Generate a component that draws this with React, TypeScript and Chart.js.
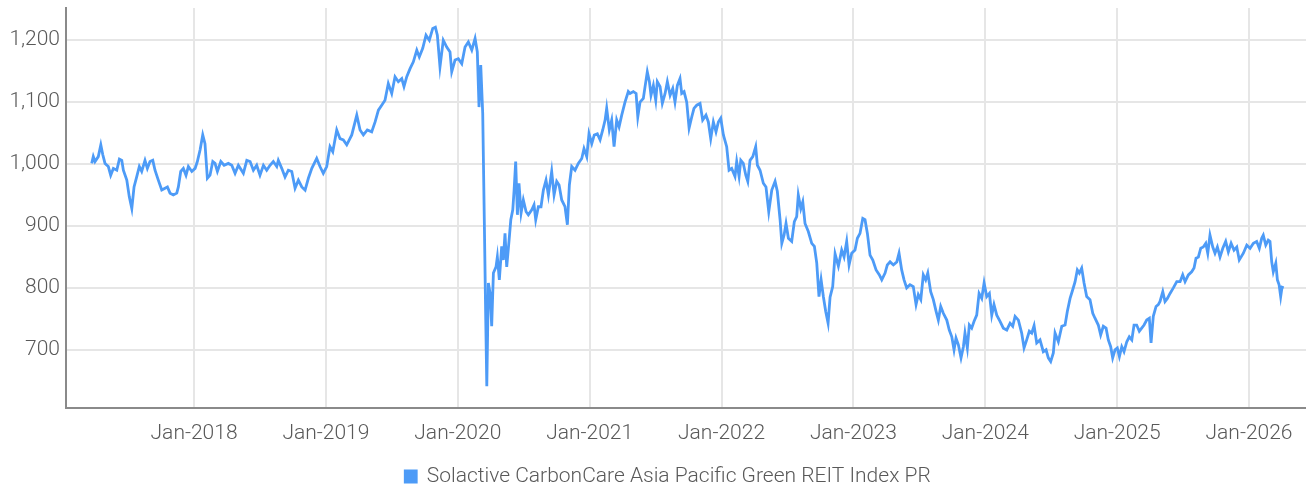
import { useEffect, useRef } from "react";
import { Chart, registerables } from "chart.js";

Chart.register(...registerables);

const SERIES_LABEL = "Solactive CarbonCare Asia Pacific Green REIT Index PR";

// Dates as decimal years
const dates: number[] = [
  2017.224, 2017.236, 2017.249, 2017.274, 2017.293, 2017.308, 2017.325, 2017.35, 2017.368, 2017.388,
  2017.414, 2017.434, 2017.452, 2017.464, 2017.49, 2017.509, 2017.528, 2017.545, 2017.566, 2017.585,
  2017.603, 2017.628, 2017.646, 2017.666, 2017.687, 2017.704, 2017.729, 2017.755, 2017.78, 2017.798,
  2017.818, 2017.843, 2017.869, 2017.881, 2017.899, 2017.919, 2017.939, 2017.957, 2017.983, 2018.008,
  2018.025, 2018.046, 2018.066, 2018.083, 2018.101, 2018.121, 2018.142, 2018.159, 2018.177, 2018.203,
  2018.228, 2018.26, 2018.286, 2018.311, 2018.336, 2018.374, 2018.4, 2018.425, 2018.45, 2018.475,
  2018.5, 2018.526, 2018.551, 2018.576, 2018.601, 2018.627, 2018.639, 2018.665, 2018.69, 2018.715,
  2018.741, 2018.766, 2018.791, 2018.817, 2018.842, 2018.867, 2018.893, 2018.93, 2018.955, 2018.98,
  2019.006, 2019.031, 2019.052, 2019.082, 2019.107, 2019.132, 2019.158, 2019.196, 2019.234, 2019.259,
  2019.284, 2019.314, 2019.347, 2019.373, 2019.398, 2019.423, 2019.448, 2019.473, 2019.499, 2019.524,
  2019.549, 2019.575, 2019.592, 2019.613, 2019.638, 2019.663, 2019.689, 2019.708, 2019.734, 2019.759,
  2019.784, 2019.81, 2019.83, 2019.845, 2019.865, 2019.89, 2019.916, 2019.941, 2019.954, 2019.979,
  2020.004, 2020.03, 2020.055, 2020.08, 2020.106, 2020.131, 2020.148, 2020.161, 2020.174, 2020.189,
  2020.201, 2020.212, 2020.22, 2020.232, 2020.245, 2020.257, 2020.27, 2020.29, 2020.3, 2020.315,
  2020.333, 2020.345, 2020.358, 2020.371, 2020.389, 2020.402, 2020.417, 2020.427, 2020.439, 2020.452,
  2020.464, 2020.48, 2020.497, 2020.518, 2020.535, 2020.561, 2020.578, 2020.591, 2020.611, 2020.631,
  2020.649, 2020.669, 2020.687, 2020.712, 2020.73, 2020.75, 2020.768, 2020.788, 2020.813, 2020.831,
  2020.846, 2020.864, 2020.889, 2020.914, 2020.94, 2020.957, 2020.978, 2020.995, 2021.016, 2021.035,
  2021.058, 2021.079, 2021.099, 2021.117, 2021.129, 2021.149, 2021.167, 2021.185, 2021.205, 2021.223,
  2021.243, 2021.268, 2021.293, 2021.306, 2021.331, 2021.352, 2021.365, 2021.382, 2021.407, 2021.42,
  2021.437, 2021.453, 2021.465, 2021.483, 2021.501, 2021.513, 2021.534, 2021.551, 2021.572, 2021.589,
  2021.61, 2021.63, 2021.647, 2021.665, 2021.685, 2021.698, 2021.716, 2021.736, 2021.754, 2021.774,
  2021.791, 2021.812, 2021.837, 2021.857, 2021.882, 2021.9, 2021.918, 2021.938, 2021.958, 2021.976,
  2021.994, 2022.014, 2022.039, 2022.057, 2022.077, 2022.102, 2022.115, 2022.133, 2022.146, 2022.165,
  2022.184, 2022.199, 2022.216, 2022.237, 2022.259, 2022.272, 2022.292, 2022.317, 2022.337, 2022.358,
  2022.381, 2022.406, 2022.423, 2022.444, 2022.457, 2022.474, 2022.489, 2022.507, 2022.532, 2022.552,
  2022.57, 2022.582, 2022.601, 2022.616, 2022.633, 2022.658, 2022.684, 2022.704, 2022.722, 2022.739,
  2022.755, 2022.772, 2022.79, 2022.808, 2022.823, 2022.843, 2022.861, 2022.886, 2022.911, 2022.929,
  2022.949, 2022.967, 2022.987, 2023.012, 2023.03, 2023.05, 2023.071, 2023.088, 2023.106, 2023.126,
  2023.147, 2023.172, 2023.197, 2023.215, 2023.24, 2023.257, 2023.278, 2023.303, 2023.329, 2023.346,
  2023.366, 2023.384, 2023.404, 2023.429, 2023.454, 2023.475, 2023.492, 2023.511, 2023.53, 2023.548,
  2023.564, 2023.586, 2023.606, 2023.627, 2023.644, 2023.662, 2023.682, 2023.708, 2023.727, 2023.746,
  2023.763, 2023.778, 2023.796, 2023.816, 2023.834, 2023.846, 2023.864, 2023.879, 2023.897, 2023.915,
  2023.935, 2023.953, 2023.973, 2023.991, 2024.011, 2024.031, 2024.049, 2024.066, 2024.087, 2024.112,
  2024.137, 2024.163, 2024.188, 2024.208, 2024.226, 2024.251, 2024.276, 2024.294, 2024.314, 2024.334,
  2024.352, 2024.37, 2024.39, 2024.415, 2024.44, 2024.461, 2024.478, 2024.496, 2024.516, 2024.529,
  2024.554, 2024.58, 2024.605, 2024.622, 2024.643, 2024.663, 2024.681, 2024.698, 2024.713, 2024.731,
  2024.749, 2024.769, 2024.794, 2024.815, 2024.832, 2024.857, 2024.875, 2024.895, 2024.916, 2024.933,
  2024.951, 2024.966, 2024.984, 2025.001, 2025.017, 2025.035, 2025.052, 2025.073, 2025.092, 2025.111,
  2025.128, 2025.148, 2025.168, 2025.186, 2025.204, 2025.224, 2025.244, 2025.257, 2025.274, 2025.295,
  2025.312, 2025.325, 2025.346, 2025.363, 2025.381, 2025.401, 2025.426, 2025.452, 2025.477, 2025.497,
  2025.515, 2025.54, 2025.565, 2025.583, 2025.598, 2025.616, 2025.634, 2025.653, 2025.672, 2025.687,
  2025.704, 2025.725, 2025.742, 2025.76, 2025.78, 2025.801, 2025.823, 2025.843, 2025.864, 2025.886,
  2025.907, 2025.926, 2025.957, 2025.983, 2026.008, 2026.033, 2026.058, 2026.078, 2026.096, 2026.108,
  2026.127, 2026.146, 2026.159, 2026.172, 2026.184, 2026.203, 2026.215, 2026.228, 2026.24, 2026.25,
  2026.263,
];

const indexValues: number[] = [
  1001, 1012, 1004, 1012, 1031, 1015, 1001, 996, 982, 993,
  990, 1008, 1006, 990, 974, 947, 928, 963, 980, 996,
  988, 1006, 993, 1004, 1006, 990, 974, 958, 961, 963,
  953, 950, 953, 963, 988, 993, 982, 996, 988, 993,
  1004, 1023, 1047, 1033, 977, 982, 1004, 1001, 988, 1004,
  998, 1001, 998, 985, 998, 985, 1006, 1004, 990, 998,
  982, 998, 990, 998, 1004, 996, 1006, 993, 979, 990,
  988, 961, 974, 963, 958, 977, 993, 1009, 996, 985,
  996, 1028, 1020, 1055, 1041, 1039, 1031, 1047, 1079, 1055,
  1047, 1055, 1052, 1068, 1087, 1095, 1103, 1130, 1114, 1141,
  1133, 1138, 1125, 1141, 1154, 1165, 1184, 1173, 1187, 1208,
  1200, 1219, 1221, 1208, 1157, 1200, 1189, 1181, 1149, 1168,
  1170, 1162, 1189, 1197, 1184, 1203, 1181, 1092, 1160, 1082,
  910, 748, 641, 808, 791, 738, 824, 834, 850, 813,
  867, 845, 888, 834, 877, 910, 926, 958, 1004, 918,
  969, 921, 942, 923, 918, 926, 934, 910, 931, 931,
  958, 974, 950, 988, 950, 972, 966, 942, 931, 902,
  966, 996, 990, 1001, 1009, 1025, 1012, 1049, 1033, 1047,
  1049, 1039, 1055, 1071, 1090, 1055, 1071, 1028, 1071, 1060,
  1079, 1100, 1117, 1114, 1117, 1114, 1076, 1100, 1106, 1125,
  1149, 1133, 1111, 1127, 1103, 1133, 1125, 1098, 1114, 1133,
  1111, 1122, 1100, 1127, 1138, 1114, 1117, 1100, 1058, 1076,
  1090, 1095, 1098, 1071, 1079, 1068, 1041, 1068, 1052, 1068,
  1074, 1047, 1028, 990, 993, 980, 1004, 980, 1006, 1001,
  982, 972, 1006, 1012, 1028, 998, 990, 969, 963, 923,
  958, 972, 956, 910, 872, 885, 904, 880, 875, 907,
  915, 950, 928, 939, 904, 891, 872, 867, 840, 786,
  813, 786, 762, 743, 785, 802, 855, 835, 861, 850,
  875, 837, 856, 861, 880, 888, 912, 910, 888, 853,
  845, 829, 821, 813, 824, 837, 842, 837, 842, 856,
  829, 813, 800, 805, 802, 773, 789, 781, 821, 813,
  824, 794, 781, 762, 748, 770, 759, 748, 732, 721,
  700, 719, 708, 687, 705, 727, 703, 740, 735, 746,
  756, 791, 783, 808, 786, 791, 756, 773, 756, 746,
  735, 732, 743, 738, 754, 748, 727, 703, 716, 730,
  727, 739, 711, 716, 697, 700, 687, 681, 695, 727,
  713, 738, 740, 762, 783, 797, 810, 829, 824, 832,
  808, 786, 781, 759, 751, 740, 724, 738, 735, 716,
  705, 687, 700, 703, 689, 705, 697, 713, 721, 716,
  740, 740, 730, 735, 740, 748, 751, 711, 754, 770,
  773, 778, 794, 778, 783, 791, 800, 810, 810, 821,
  810, 821, 826, 832, 848, 850, 864, 866, 872, 856,
  885, 866, 856, 866, 850, 864, 875, 858, 872, 861,
  866, 845, 856, 869, 864, 872, 875, 864, 880, 885,
  869, 877, 875, 842, 826, 840, 813, 805, 786, 801,
  800,
];

const yTickValues: number[] = [700, 800, 900, 1000, 1100, 1200];
const xTickYears: number[] = [2018, 2019, 2020, 2021, 2022, 2023, 2024, 2025, 2026];
const xTickLabels: string[] = [
  "Jan-2018", "Jan-2019", "Jan-2020", "Jan-2021", "Jan-2022",
  "Jan-2023", "Jan-2024", "Jan-2025", "Jan-2026",
];

const X_MIN = 2017.029;
const X_MAX = 2026.432;
const Y_MIN = 606;
const Y_MAX = 1252;

const LINE_COLOR = "rgb(77, 155, 247)";
const TEXT_COLOR = "#595959";
const GRID_COLOR = "#e6e6e6";
const AXIS_COLOR = "#8a8a8a";
const FONT = { family: "Roboto", size: 21, weight: "300" as const };
const LEGEND_SHIFT = 15;

const legendShiftPlugin = {
  id: "legendShift",
  afterLayout(chart: any) {
    const legend = chart.legend;
    if (legend) {
      legend.left += LEGEND_SHIFT;
      legend.right += LEGEND_SHIFT;
    }
  },
};

export default function App() {
  const canvasRef = useRef<HTMLCanvasElement | null>(null);

  useEffect(() => {
    document.body.style.margin = "0";
    const canvas = canvasRef.current;
    if (!canvas) return;
    const points = dates.map((d, i) => ({ x: d, y: indexValues[i] }));
    const chart = new Chart(canvas, {
      type: "line",
      data: {
        datasets: [
          {
            label: SERIES_LABEL,
            data: points,
            borderColor: LINE_COLOR,
            backgroundColor: LINE_COLOR,
            borderWidth: 2.8,
            pointRadius: 0,
            pointHoverRadius: 0,
            tension: 0,
            fill: false,
          },
        ],
      },
      options: {
        animation: false,
        responsive: false,
        maintainAspectRatio: false,
        layout: { padding: { top: 8, right: 0, bottom: -4, left: 0 } },
        scales: {
          x: {
            type: "linear",
            min: X_MIN,
            max: X_MAX,
            afterBuildTicks: (scale: any) => {
              scale.ticks = xTickYears.map((v) => ({ value: v }));
            },
            afterFit: (scale: any) => {
              scale.height = 48;
              scale.paddingLeft = 0;
              scale.paddingRight = 0;
            },
            ticks: {
              autoSkip: false,
              maxRotation: 0,
              minRotation: 0,
              padding: 13,
              color: TEXT_COLOR,
              font: FONT,
              callback: (value: any) => {
                const idx = xTickYears.indexOf(Number(value));
                return idx >= 0 ? xTickLabels[idx] : "";
              },
            },
            grid: { color: GRID_COLOR, lineWidth: 2, drawTicks: false },
            border: { display: true, color: AXIS_COLOR, width: 2 },
          },
          y: {
            type: "linear",
            min: Y_MIN,
            max: Y_MAX,
            afterBuildTicks: (scale: any) => {
              scale.ticks = yTickValues.map((v) => ({ value: v }));
            },
            afterFit: (scale: any) => {
              scale.width = 66;
              scale.paddingTop = 0;
              scale.paddingBottom = 0;
            },
            ticks: {
              padding: 6,
              color: TEXT_COLOR,
              font: FONT,
              callback: (value: any) => Number(value).toLocaleString("en-US"),
            },
            grid: { color: GRID_COLOR, lineWidth: 2, drawTicks: false },
            border: { display: true, color: AXIS_COLOR, width: 2 },
          },
        },
        plugins: {
          legend: {
            display: true,
            position: "bottom",
            labels: {
              boxWidth: 11,
              boxHeight: 11,
              padding: 10,
              color: TEXT_COLOR,
              font: FONT,
            },
          },
          tooltip: { enabled: false },
        },
      },
      plugins: [legendShiftPlugin],
    });
    return () => chart.destroy();
  }, []);

  return (
    <div style={{ width: 1306, height: 493 }}>
      <canvas ref={canvasRef} width={1306} height={493} style={{ display: "block" }} />
    </div>
  );
}
